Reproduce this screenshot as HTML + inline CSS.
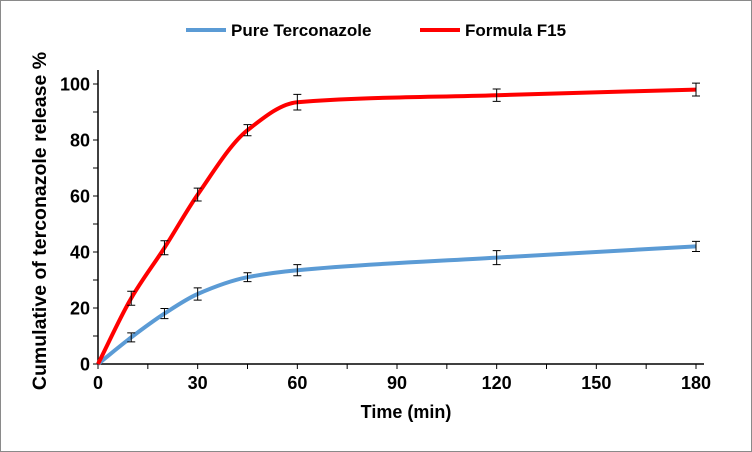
<!DOCTYPE html>
<html><head><meta charset="utf-8"><style>
body{margin:0;background:#fff}
svg{display:block;font-family:"Liberation Sans",Arial,sans-serif}
</style></head><body>
<svg width="752" height="452">
<rect x="0.5" y="0.5" width="751" height="451" fill="#fff" stroke="#8a8a8a"/>
<g id="axes"></g><g id="series"></g>
<g>
 <line x1="186" y1="30" x2="226" y2="30" stroke="#5b9bd5" stroke-width="4"/>
 <text x="231" y="36" font-size="17" font-weight="bold">Pure Terconazole</text>
 <line x1="420" y1="30" x2="460" y2="30" stroke="#ff0000" stroke-width="4"/>
 <text x="465" y="36" font-size="17" font-weight="bold">Formula F15</text>
</g>
<text x="406" y="418" font-size="18" font-weight="bold" text-anchor="middle">Time (min)</text>
<text transform="translate(46,221) rotate(-90)" font-size="19.5" font-weight="bold" text-anchor="middle">Cumulative of terconazole release %</text>
</svg>
<script>
const times=[0,10,20,30,45,60,120,180];
const pureVals=[0,9.5,18,25,31,33.5,38,42];
const pureErr=[0,1.6,1.8,2.2,1.6,2,2.5,1.8];
const f15Vals=[0,23.5,41.5,60.5,83.5,93.5,96,98];
const f15Err=[0,2.5,2.5,2.3,2,2.8,2.2,2.3];
const xTicks=[0,30,60,90,120,150,180];
const yTicks=[0,20,40,60,80,100];
const NS="http://www.w3.org/2000/svg";
const X0=98,X1=696,Y0=364,Y1=84;
const sx=v=>X0+(v/180)*(X1-X0), sy=v=>Y0-(v/100)*(Y0-Y1);
function mk(t,a,p){const e=document.createElementNS(NS,t);for(const k in a)e.setAttribute(k,a[k]);p.appendChild(e);return e;}
const ax=document.getElementById('axes'),se=document.getElementById('series');
let l=mk('line',{x1:X0,y1:Y0,x2:X1+8,y2:Y0,stroke:'#000','stroke-width':1.5},ax);


l=mk('line',{x1:X0,y1:Y0,x2:X0,y2:70,stroke:'#000','stroke-width':1.5},ax);


for(let v=0;v<=180;v+=15){const t=mk('line',{x1:sx(v),y1:Y0,x2:sx(v),y2:Y0+5,stroke:'#000'},ax);

}
for(let v=0;v<=100;v+=10){const t=mk('line',{x1:X0-5,y1:sy(v),x2:X0,y2:sy(v),stroke:'#000'},ax);

}
xTicks.forEach(v=>{const t=mk('text',{x:sx(v),y:Y0+25,'font-size':18,'font-weight':'bold','text-anchor':'middle'},ax);t.textContent=v;

});
yTicks.forEach(v=>{const t=mk('text',{x:X0-8,y:sy(v)+6.5,'font-size':18,'font-weight':'bold','text-anchor':'end'},ax);t.textContent=v;

});
function path(vals){
const P=times.map((t,i)=>[sx(t),sy(vals[i])]),n=P.length;
const d=[],m=[];
for(let i=0;i<n-1;i++)d.push((P[i+1][1]-P[i][1])/(P[i+1][0]-P[i][0]));
m[0]=d[0];m[n-1]=d[n-2];
for(let i=1;i<n-1;i++){if(d[i-1]*d[i]<=0)m[i]=0;else{const h0=P[i][0]-P[i-1][0],h1=P[i+1][0]-P[i][0];m[i]=3*(h0+h1)/((2*h1+h0)/d[i-1]+(h1+2*h0)/d[i]);}}
let s='M'+P[0];
for(let i=0;i<n-1;i++){const h=(P[i+1][0]-P[i][0])/3;
s+=` C${P[i][0]+h},${P[i][1]+m[i]*h} ${P[i+1][0]-h},${P[i+1][1]-m[i+1]*h} ${P[i+1][0]},${P[i+1][1]}`;}
return s;}
function series(vals,err,col,name){
const p=mk('path',{d:path(vals),fill:'none',stroke:col,'stroke-width':4,'stroke-linejoin':'round'},se);


times.forEach((t,i)=>{if(!err[i])return;const x=sx(t),a=sy(vals[i]+err[i]),b=sy(vals[i]-err[i]);
const g=mk('path',{d:`M${x},${a}V${b}M${x-4},${a}H${x+4}M${x-4},${b}H${x+4}`,stroke:'#000','stroke-width':1,fill:'none'},se);

});}
series(pureVals,pureErr,'#5b9bd5','pure-terconazole');
series(f15Vals,f15Err,'#ff0000','formula-f15');
</script>
</body></html>
